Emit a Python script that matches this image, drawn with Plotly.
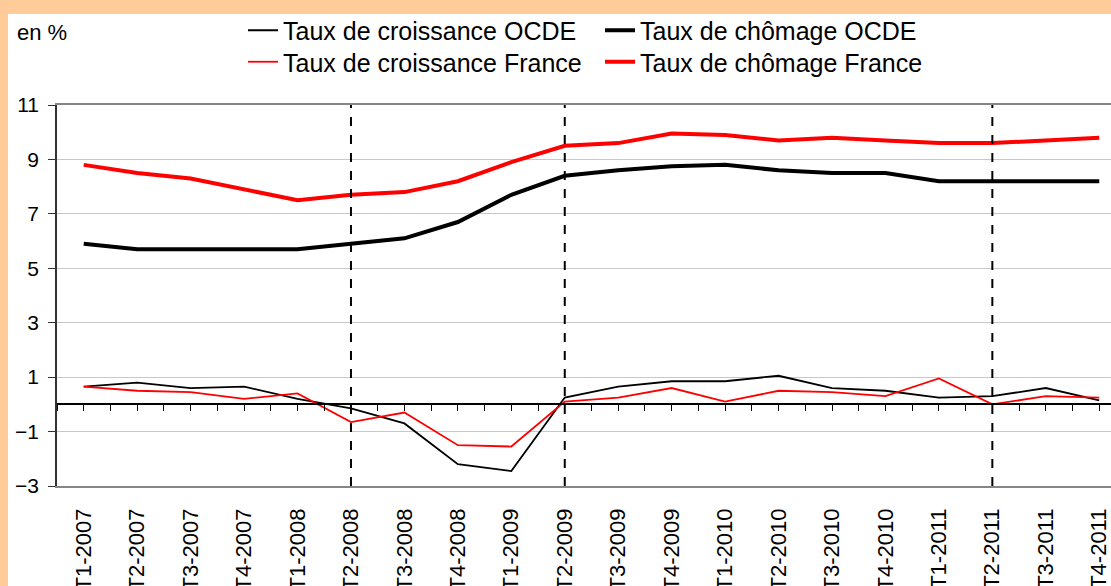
import plotly.graph_objects as go

# ---- Data ----
trimestres = ["T1-2007", "T2-2007", "T3-2007", "T4-2007", "T1-2008", "T2-2008", "T3-2008",
              "T4-2008", "T1-2009", "T2-2009", "T3-2009", "T4-2009", "T1-2010", "T2-2010",
              "T3-2010", "T4-2010", "T1-2011", "T2-2011", "T3-2011", "T4-2011"]

croissance_ocde = [0.65, 0.8, 0.6, 0.65, 0.2, -0.15, -0.7, -2.2, -2.45, 0.25,
                   0.65, 0.85, 0.85, 1.05, 0.6, 0.5, 0.25, 0.3, 0.6, 0.15]
chomage_ocde = [5.9, 5.7, 5.7, 5.7, 5.7, 5.9, 6.1, 6.7, 7.7, 8.4,
                8.6, 8.75, 8.8, 8.6, 8.5, 8.5, 8.2, 8.2, 8.2, 8.2]
croissance_france = [0.65, 0.5, 0.45, 0.2, 0.4, -0.65, -0.3, -1.5, -1.55, 0.1,
                     0.25, 0.6, 0.1, 0.5, 0.45, 0.3, 0.95, 0.0, 0.3, 0.25]
chomage_france = [8.8, 8.5, 8.3, 7.9, 7.5, 7.7, 7.8, 8.2, 8.9, 9.5,
                  9.6, 9.95, 9.9, 9.7, 9.8, 9.7, 9.6, 9.6, 9.7, 9.8]

periodes_marquees = ["T2-2008", "T2-2009", "T2-2011"]
y_ticks = [-3, -1, 1, 3, 5, 7, 9, 11]

FONT = "Liberation Sans, Arial, sans-serif"
W, H = 1111, 586
L, R, T, B = 57, 0, 105, 100
pw, ph = W - L - R, H - T - B

fig = go.Figure()
fig.add_trace(go.Scatter(x=trimestres, y=croissance_ocde, mode="lines", legend="legend",
                         name="Taux de croissance OCDE", line=dict(color="black", width=1.8)))
fig.add_trace(go.Scatter(x=trimestres, y=chomage_ocde, mode="lines", legend="legend",
                         name="Taux de chômage OCDE", line=dict(color="black", width=4)))
fig.add_trace(go.Scatter(x=trimestres, y=croissance_france, mode="lines", legend="legend2",
                         name="Taux de croissance France", line=dict(color="#FF0000", width=1.8)))
fig.add_trace(go.Scatter(x=trimestres, y=chomage_france, mode="lines", legend="legend2",
                         name="Taux de chômage France", line=dict(color="#FF0000", width=4)))
# helper trace for the zero axis with ticks
fig.add_trace(go.Scatter(x=[None], y=[None], xaxis="x2", yaxis="y", showlegend=False,
                         hoverinfo="skip", mode="lines"))

xr = [-0.5, 19.22]
shapes = [dict(type="rect", xref="paper", yref="paper",
               x0=(8 - L) / pw, x1=1.02, y0=-0.3, y1=(H - B - 14) / ph,
               fillcolor="white", line=dict(width=0), layer="below")]
for p in periodes_marquees:
    i = trimestres.index(p)
    shapes.append(dict(type="line", xref="x", yref="y", x0=i, x1=i, y0=-3, y1=11,
                       line=dict(color="black", width=2, dash="dash")))

leg_common = dict(orientation="h", xref="container", yref="container",
                  xanchor="left", yanchor="top", entrywidth=312,
                  font=dict(size=25, family=FONT, color="black"),
                  bgcolor="rgba(0,0,0,0)", traceorder="normal")

fig.update_layout(
    width=W, height=H,
    margin=dict(l=L, r=R, t=T, b=B, autoexpand=False),
    paper_bgcolor="#FFCC99",
    plot_bgcolor="white",
    font=dict(family=FONT, color="black"),
    showlegend=True,
    legend=dict(x=243 / W, y=1 - 7.5 / H, **leg_common),
    legend2=dict(x=243 / W, y=1 - 39 / H, **leg_common),
    xaxis=dict(type="category", range=xr, showgrid=False, zeroline=False, automargin=False,
               showline=True, linecolor="#868686", linewidth=1.5, mirror=True,
               ticks="", tickangle=-90, tickfont=dict(size=22, family=FONT, color="black"),
               ticklabelstandoff=12),
    xaxis2=dict(overlaying="x", anchor="free", position=3 / 14, range=xr, automargin=False,
                showline=True, linecolor="black", linewidth=1.5,
                ticks="outside", ticklen=6, tickcolor="black", tickwidth=1,
                tickmode="linear", tick0=-0.5, dtick=0.5,
                showticklabels=False, showgrid=False, zeroline=False),
    yaxis=dict(range=[-3, 11], tickmode="array", tickvals=y_ticks, automargin=False,
               showgrid=True, gridcolor="#C8C8C8", gridwidth=1, zeroline=False,
               showline=True, linecolor="#333333", linewidth=1.5,
               ticks="outside", ticklen=7, tickcolor="#333333",
               tickfont=dict(size=21, family=FONT, color="black"),
               ticklabelstandoff=5),
    shapes=shapes,
    annotations=[dict(text="en %", xref="paper", yref="paper",
                      x=(15 - L) / pw, y=(H - B - 32) / ph, xanchor="left", yanchor="middle",
                      showarrow=False, font=dict(size=22, family=FONT, color="black"))],
)

fig.write_html("out.html", config={"displayModeBar": False},
               post_script="document.body.style.margin='0px';")
